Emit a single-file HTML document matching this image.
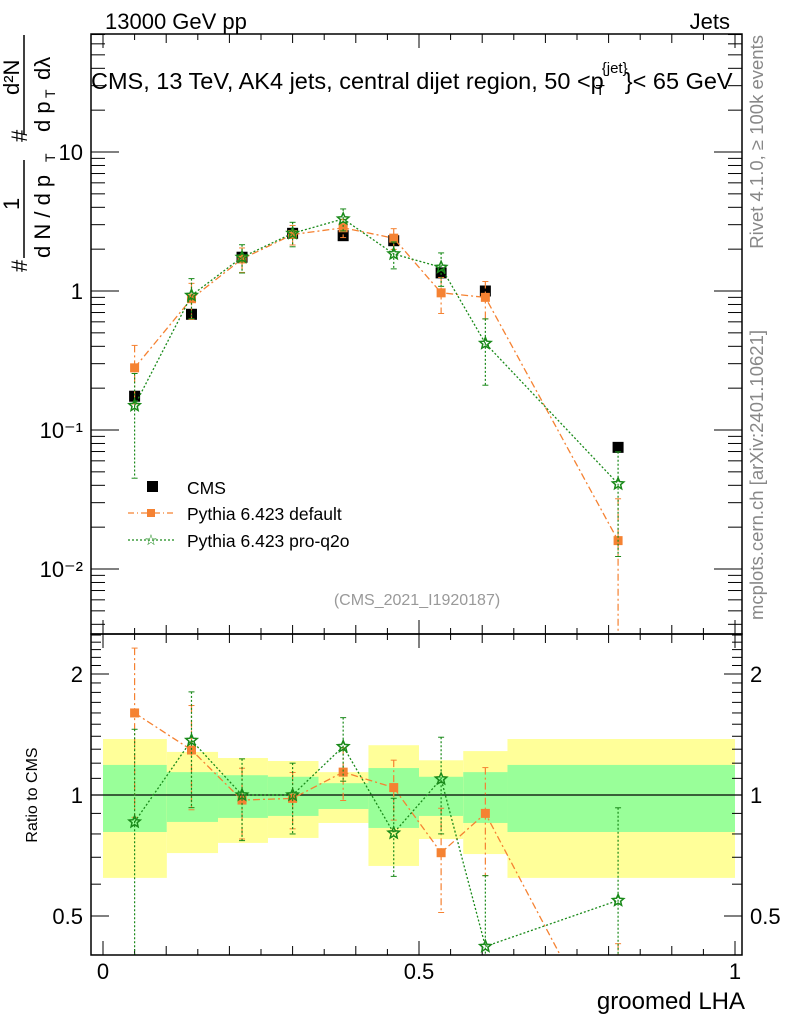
<!DOCTYPE html>
<html><head><meta charset="utf-8">
<style>
html,body{margin:0;padding:0;background:#fff;width:786px;height:1024px;overflow:hidden;}
svg{display:block;font-family:"Liberation Sans",sans-serif;}
</style></head>
<body>
<svg id="chart" width="786" height="1024" viewBox="0 0 786 1024" xmlns="http://www.w3.org/2000/svg">
<text x="105" y="29" font-size="22">13000 GeV pp</text>
<text x="730" y="29" font-size="22" text-anchor="end">Jets</text>
<text x="91" y="89" font-size="23.5">CMS, 13 TeV, AK4 jets, central dijet region, 50 &lt;p<tspan font-size="15" dy="-16" dx="-2">{jet}</tspan><tspan font-size="15" dx="-32" dy="22">T</tspan><tspan dy="-6" dx="20">}&lt; 65 GeV</tspan></text>
<text transform="translate(763,35) rotate(-90)" font-size="18.5" fill="#888" text-anchor="end">Rivet 4.1.0, ≥ 100k events</text>
<text transform="translate(763,330) rotate(-90)" font-size="18.5" fill="#888" text-anchor="end">mcplots.cern.ch [arXiv:2401.10621]</text>
<text x="417" y="605" font-size="16" fill="#999" text-anchor="middle">(CMS_2021_I1920187)</text>
<g font-size="22">
 <text transform="translate(27,272) rotate(-90)">#</text>
 <text transform="translate(19,210) rotate(-90)">1</text>
 <line x1="24" y1="258" x2="24" y2="160" stroke="#000" stroke-width="1.5"/>
 <text transform="translate(50,258) rotate(-90)">d N / d p</text>
 <text transform="translate(55,162) rotate(-90)" font-size="14">T</text>
 <text transform="translate(27,142) rotate(-90)">#</text>
 <text transform="translate(19,95) rotate(-90)">d²N</text>
 <line x1="24" y1="135" x2="24" y2="35" stroke="#000" stroke-width="1.5"/>
 <text transform="translate(50,132) rotate(-90)">d p</text>
 <text transform="translate(55,98) rotate(-90)" font-size="14">T</text>
 <text transform="translate(50,80) rotate(-90)">dλ</text>
</g>
<text transform="translate(37,795) rotate(-90)" font-size="16" text-anchor="middle">Ratio to CMS</text>
<text x="745" y="1009" font-size="24" text-anchor="end">groomed LHA</text>
<g id="bands"></g>
<g id="gridlayer"></g>
<g id="marks"></g>
<rect x="91" y="34" width="651" height="600" fill="none" stroke="#000" stroke-width="1.5"/>
<rect x="91" y="634" width="651" height="321" fill="none" stroke="#000" stroke-width="1.5"/>
<g>
 <rect x="147" y="481" width="11" height="11" fill="#000"/>
 <text x="187" y="494" font-size="17.5">CMS</text>
 <line x1="128" y1="513" x2="175" y2="513" stroke="#f58232" stroke-width="1.2" stroke-dasharray="6,3,1,3"/>
 <rect x="147" y="509" width="8" height="8" fill="#f58232"/>
 <text x="187" y="520" font-size="17.5">Pythia 6.423 default</text>
 <line x1="128" y1="540" x2="175" y2="540" stroke="#1a8a1a" stroke-width="1.2" stroke-dasharray="2,2"/>
 <text x="151" y="545" font-size="15" fill="#1a8a1a" text-anchor="middle">☆</text>
 <text x="187" y="547" font-size="17.5">Pythia 6.423 pro-q2o</text>
</g>
</svg>
<script>
const binEdges=[0,0.101,0.182,0.261,0.341,0.42,0.50,0.57,0.64,1.0];
const binCenters=[0.05,0.14,0.22,0.30,0.38,0.46,0.535,0.605,0.815];
const cmsValues=[0.175,0.68,1.75,2.6,2.5,2.3,1.35,1.0,0.075];
const defaultValues=[0.28,0.88,1.7,2.55,2.85,2.4,0.97,0.9,0.016];
const proValues=[0.15,0.93,1.75,2.6,3.3,1.85,1.48,0.42,0.041];
const defaultRelErr=[0.45,0.29,0.2,0.16,0.15,0.17,0.29,0.3,1.0];
const proRelErr=[0.7,0.32,0.23,0.2,0.18,0.22,0.27,0.5,0.7];
const cmsRelErr=[0.08,0.06,0.04,0.04,0.04,0.06,0.06,0.08,0.05];
const yellowHi=[1.378,1.28,1.236,1.215,1.14,1.33,1.22,1.286,1.378];
const yellowLo=[0.622,0.717,0.76,0.782,0.852,0.666,0.777,0.713,0.622];
const greenHi=[1.188,1.14,1.12,1.11,1.07,1.167,1.11,1.14,1.188];
const greenLo=[0.809,0.857,0.877,0.887,0.923,0.828,0.887,0.852,0.809];
const mainTicks=[10,1,0.1,0.01];
const mainTickLabels=["10","1","10⁻¹","10⁻²"];
const ratioTicks=[2,1,0.5];
const ratioTickLabels=["2","1","0.5"];
const xTicks=[0,0.5,1];
const xTickLabels=["0","0.5","1"];

const NS="http://www.w3.org/2000/svg";
const X=v=>103+632*v;
const YM=v=>291-139*Math.log10(v);
const YR=v=>795-121*Math.log2(v);
const L=91,R=742,MT=34,MB=634,RT=634,RB=955;
function mk(tag,attrs,parent){const e=document.createElementNS(NS,tag);for(const k in attrs)e.setAttribute(k,attrs[k]);parent.appendChild(e);return e;}
const bands=document.getElementById('bands'),grid=document.getElementById('gridlayer'),marks=document.getElementById('marks');
const clampR=v=>Math.min(RB,Math.max(RT,v));
const clampM=v=>Math.min(MB,Math.max(MT,v));

for(let i=0;i<binCenters.length;i++){
  const x0=X(binEdges[i]),x1=Math.min(R,X(binEdges[i+1]));
  const y=mk('rect',{x:x0,y:YR(yellowHi[i]),width:x1-x0,height:YR(yellowLo[i])-YR(yellowHi[i]),fill:'#ffff99'},bands);
  
  
  const g=mk('rect',{x:x0,y:YR(greenHi[i]),width:x1-x0,height:YR(greenLo[i])-YR(greenHi[i]),fill:'#99ff99'},bands);
  
  
}
const one=mk('line',{x1:L,x2:R,y1:YR(1),y2:YR(1),stroke:'#000','stroke-width':1.2},grid);



for(let k=0;k<=20;k++){const v=k*0.05;const x=X(v);if(x>R+0.5)continue;
  const len=(k%10===0)?14:(k%2===0?9:6);
  [[MT,1],[MB,-1],[RT,1],[RB,-1]].forEach(([y0,d])=>mk('line',{x1:x,x2:x,y1:y0,y2:y0+d*len,stroke:'#000'},grid));}
xTicks.forEach((v,i)=>{const t=mk('text',{x:X(v),y:979,'font-size':22,'text-anchor':'middle'},grid);t.textContent=xTickLabels[i];
  
  });
for(let d=-3;d<=1;d++)for(let m=1;m<10;m++){const v=m*Math.pow(10,d);const y=YM(v);if(y<MT||y>MB)continue;
  const len=m===1?28:14;mk('line',{x1:L,x2:L+len,y1:y,y2:y,stroke:'#000'},grid);mk('line',{x1:R,x2:R-len,y1:y,y2:y,stroke:'#000'},grid);}
mainTicks.forEach((v,i)=>{const t=mk('text',{x:83,y:YM(v)+8,'font-size':22,'text-anchor':'end'},grid);t.textContent=mainTickLabels[i];
  
  });
for(let k=4;k<=25;k++){const v=k/10;const y=YR(v);if(y<RT||y>RB)continue;
  const len=(v===1||v===2||v===0.5)?18:10;mk('line',{x1:L,x2:L+len,y1:y,y2:y,stroke:'#000'},grid);mk('line',{x1:R,x2:R-len,y1:y,y2:y,stroke:'#000'},grid);}
ratioTicks.forEach((v,i)=>{
  const t=mk('text',{x:83,y:YR(v)+8,'font-size':22,'text-anchor':'end'},grid);t.textContent=ratioTickLabels[i];
  
  
  const t2=mk('text',{x:750,y:YR(v)+8,'font-size':22},grid);t2.textContent=ratioTickLabels[i];
  
  });

function star(cx,cy,r,color,parent){let p='';for(let i=0;i<10;i++){const a=-Math.PI/2+i*Math.PI/5;const rr=i%2?r*0.45:r;p+=(i?'L':'M')+(cx+rr*Math.cos(a)).toFixed(1)+','+(cy+rr*Math.sin(a)).toFixed(1);}
  return mk('path',{d:p+'Z',fill:'none',stroke:color,'stroke-width':1.5},parent);}

function series(vals,rel,color,dash,kind,panel){
  const ratio=panel==='ratio';
  const Y=ratio?(v=>YR(v)):(v=>YM(v));
  const cl=ratio?clampR:clampM;
  let d='';
  vals.forEach((v0,i)=>{const v=ratio?v0/cmsValues[i]:v0;d+=(i?'L':'M')+X(binCenters[i]).toFixed(1)+','+Y(v).toFixed(1);});
  const cp=mk('clipPath',{id:'clip'+panel+kind},marks);
  mk('rect',{x:L,y:ratio?RT:MT,width:R-L,height:ratio?RB-RT:MB-MT},cp);
  const g=mk('g',{'clip-path':'url(#clip'+panel+kind+')'},marks);
  const ln=mk('path',{d:d,fill:'none',stroke:color,'stroke-width':1.3,'stroke-dasharray':dash},g);
  
  
  vals.forEach((v0,i)=>{const v=ratio?v0/cmsValues[i]:v0;const x=X(binCenters[i]);
    const hi=v*(1+rel[i]),lo=Math.max(v*(1-rel[i]),1e-4);
    const e=mk('line',{x1:x,x2:x,y1:cl(Y(hi)),y2:cl(Y(lo)),stroke:color,'stroke-width':1.2,'stroke-dasharray':dash},g);
    
    
    mk('line',{x1:x-3,x2:x+3,y1:Y(hi),y2:Y(hi),stroke:color},g);
    mk('line',{x1:x-3,x2:x+3,y1:Y(lo),y2:Y(lo),stroke:color},g);
    let m;
    if(kind==='default'){m=mk('rect',{x:x-4.5,y:Y(v)-4.5,width:9,height:9,fill:color},g);}
    else{m=star(x,Y(v),6,color,g);}
    
    
  });
}
cmsValues.forEach((v,i)=>{const x=X(binCenters[i]);
  const e=mk('line',{x1:x,x2:x,y1:YM(v*(1+cmsRelErr[i])),y2:YM(v*(1-cmsRelErr[i])),stroke:'#000','stroke-width':1.5},marks);
  
  
  const r=mk('rect',{x:x-5.5,y:YM(v)-5.5,width:11,height:11,fill:'#000'},marks);
  
  });
series(defaultValues,defaultRelErr,'#f58232','7,3,2,3','default','main');
series(proValues,proRelErr,'#1a8a1a','2,2','proq2o','main');
series(defaultValues,defaultRelErr,'#f58232','7,3,2,3','default','ratio');
series(proValues,proRelErr,'#1a8a1a','2,2','proq2o','ratio');
</script>
</body></html>
